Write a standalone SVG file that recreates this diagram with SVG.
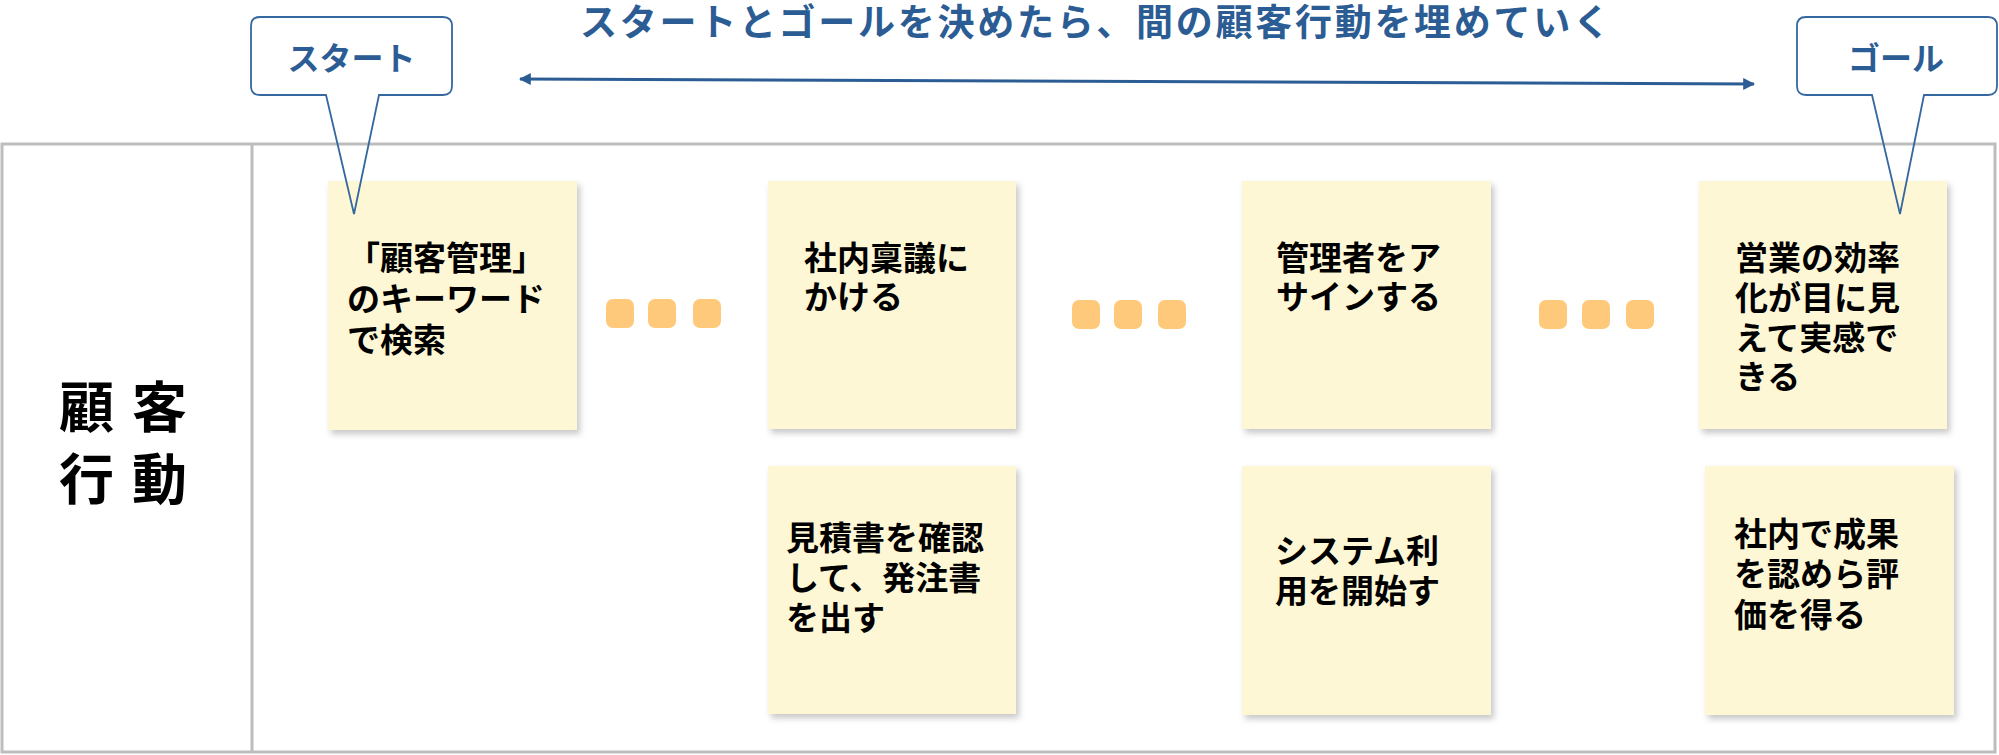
<svg xmlns="http://www.w3.org/2000/svg" width="1999" height="755" viewBox="0 0 1999 755">
<defs>
<filter id="sh" x="-10%" y="-10%" width="125%" height="125%">
<feDropShadow dx="3" dy="4" stdDeviation="3" flood-color="#000" flood-opacity="0.22"/>
</filter>
<marker id="ah" viewBox="0 0 10 10" refX="9" refY="5" markerWidth="4" markerHeight="4" orient="auto-start-reverse">
<path d="M0,0 L10,5 L0,10 z" fill="#2B5D94"/>
</marker>
<style>
.note{fill:#FEF7D5;filter:url(#sh)}
.nt{font-family:"Noto Sans CJK JP","Noto Sans CJK SC",sans-serif;font-weight:bold;font-size:33px;fill:#000}
.dot{fill:#FFC97C}
.call{fill:none;stroke:#3567A0;stroke-width:1.8;stroke-linejoin:miter}
.ct{font-family:"Noto Sans CJK JP","Noto Sans CJK SC",sans-serif;font-weight:bold;font-size:32px;fill:#2B5D94}
.grid{fill:none;stroke:#BDBDBD;stroke-width:3}
.lbl{font-family:"Noto Sans CJK JP","Noto Sans CJK SC",sans-serif;font-weight:bold;font-size:55px;fill:#000;letter-spacing:18px}
</style>
</defs>
<rect width="1999" height="755" fill="#fff"/>
<g id="table">
<rect class="grid" x="2" y="144" width="1993" height="608"/>
<line class="grid" x1="252" y1="144" x2="252" y2="752"/>
<text class="lbl" x="59" y="427">顧客</text>
<text class="lbl" x="59" y="499">行動</text>
</g>
<g id="title">
<text x="580" y="36" font-family="'Noto Sans CJK JP','Noto Sans CJK SC',sans-serif" font-weight="bold" font-size="37" fill="#2B5D94" textLength="1030" lengthAdjust="spacing">スタートとゴールを決めたら、間の顧客行動を埋めていく</text>
</g>
<g id="connectors">
<line x1="520" y1="79" x2="1754" y2="84" stroke="#2B5D94" stroke-width="3" marker-start="url(#ah)" marker-end="url(#ah)"/>
</g>
<g id="n1"><rect class="note" x="328" y="181" width="249" height="249"/>
<text class="nt"><tspan x="347" y="270">「顧客管理」</tspan><tspan x="347" y="311">のキーワード</tspan><tspan x="347" y="352">で検索</tspan></text></g>
<g id="n2"><rect class="note" x="768" y="181" width="248" height="248"/>
<text class="nt"><tspan x="804" y="270">社内稟議に</tspan><tspan x="804" y="309">かける</tspan></text></g>
<g id="n3"><rect class="note" x="1242" y="181" width="249" height="248"/>
<text class="nt"><tspan x="1276" y="270">管理者をア</tspan><tspan x="1276" y="309">サインする</tspan></text></g>
<g id="n4"><rect class="note" x="1699" y="181" width="248" height="248"/>
<text class="nt"><tspan x="1735" y="270">営業の効率</tspan><tspan x="1735" y="310">化が目に見</tspan><tspan x="1735" y="350">えて実感で</tspan><tspan x="1735" y="389">きる</tspan></text></g>
<g id="n5"><rect class="note" x="768" y="466" width="248" height="248"/>
<text class="nt"><tspan x="786" y="550">見積書を確認</tspan><tspan x="786" y="590">して、発注書</tspan><tspan x="786" y="630">を出す</tspan></text></g>
<g id="n6"><rect class="note" x="1242" y="466" width="249" height="249"/>
<text class="nt"><tspan x="1275" y="563">システム利</tspan><tspan x="1275" y="603">用を開始す</tspan></text></g>
<g id="n7"><rect class="note" x="1705" y="466" width="249" height="249"/>
<text class="nt"><tspan x="1734" y="546">社内で成果</tspan><tspan x="1734" y="586">を認めら評</tspan><tspan x="1734" y="627">価を得る</tspan></text></g>
<g id="dots1"><rect class="dot" x="606" y="299" width="28" height="29" rx="7"/><rect class="dot" x="648" y="299" width="28" height="29" rx="7"/><rect class="dot" x="693" y="299" width="28" height="29" rx="7"/></g>
<g id="dots2"><rect class="dot" x="1072" y="300" width="28" height="29" rx="7"/><rect class="dot" x="1114" y="300" width="28" height="29" rx="7"/><rect class="dot" x="1158" y="300" width="28" height="29" rx="7"/></g>
<g id="dots3"><rect class="dot" x="1539" y="300" width="28" height="29" rx="7"/><rect class="dot" x="1582" y="300" width="28" height="29" rx="7"/><rect class="dot" x="1626" y="300" width="28" height="29" rx="7"/></g>
<g id="start">
<rect x="251" y="17" width="201" height="78" rx="9" fill="#fff"/>
<path class="call" d="M379,95 L443,95 Q452,95 452,86 L452,26 Q452,17 443,17 L260,17 Q251,17 251,26 L251,86 Q251,95 260,95 L326,95 L354,214 Z"/>
<text class="ct" x="351.5" y="70" text-anchor="middle">スタート</text>
</g>
<g id="goal">
<rect x="1797" y="17" width="200" height="78" rx="9" fill="#fff"/>
<path class="call" d="M1924,95 L1988,95 Q1997,95 1997,86 L1997,26 Q1997,17 1988,17 L1806,17 Q1797,17 1797,26 L1797,86 Q1797,95 1806,95 L1872,95 L1900,214 Z"/>
<text class="ct" x="1896" y="70" text-anchor="middle">ゴール</text>
</g>
</svg>
